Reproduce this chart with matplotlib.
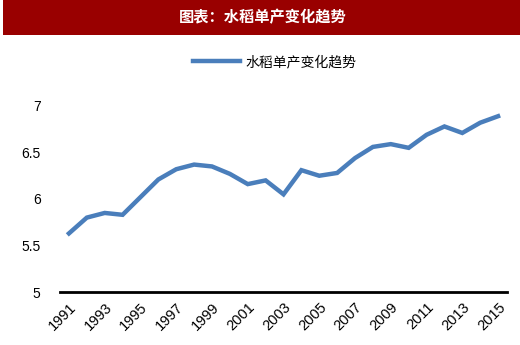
import matplotlib.pyplot as plt
from matplotlib.patches import Rectangle

plt.rcParams['font.family'] = ['Noto Sans CJK SC', 'DejaVu Sans']

years = list(range(1991, 2016))
rice_yield = [5.63, 5.80, 5.85, 5.83, 6.02, 6.21, 6.32, 6.37, 6.35, 6.27,
              6.16, 6.20, 6.05, 6.31, 6.25, 6.28, 6.44, 6.56, 6.59, 6.55,
              6.69, 6.78, 6.71, 6.82, 6.89]
yticks = [5, 5.5, 6, 6.5, 7]
ytick_labels = ['5', '5.5', '6', '6.5', '7']

fig = plt.figure(figsize=(5.2, 3.45), dpi=100)

# header bar
fig.patches.append(Rectangle((0.006, 0.9), 0.994, 0.1, transform=fig.transFigure,
                             facecolor='#990000', edgecolor='none', zorder=0))
fig.text(0.505, 0.95, '图表：水稻单产变化趋势', color='white', fontsize=11,
         fontweight='bold', ha='center', va='center')

ax = fig.add_axes([0.1154, 0.1536, 0.8596, 0.5392])
x = list(range(len(years)))
ax.plot(x, rice_yield, color='#4a7ebb', linewidth=3.2, solid_joinstyle='miter',
        label='水稻单产变化趋势')

ax.set_xlim(-0.5, len(years) - 0.5)
ax.set_ylim(5, 7)
ax.set_yticks(yticks)
ax.set_yticklabels(ytick_labels, family=['Liberation Sans', 'DejaVu Sans'], fontsize=10)
ax.set_xticks(x[::2])
ax.set_xticklabels([str(y) for y in years[::2]], rotation=45, ha='right',
                   rotation_mode='anchor', family=['Liberation Sans', 'DejaVu Sans'],
                   fontsize=10.5)
ax.tick_params(axis='both', length=0, pad=6)
ax.tick_params(axis='y', pad=14)

for side in ['top', 'right', 'left']:
    ax.spines[side].set_visible(False)
ax.spines['bottom'].set_linewidth(2)
ax.spines['bottom'].set_color('black')

leg = ax.legend(loc='center', bbox_to_anchor=(0.48, 1.237), frameon=False,
                fontsize=10, handlelength=3.4, handletextpad=0.4)
leg.get_lines()[0].set_linewidth(3.2)

plt.savefig('out.png', dpi=100)
